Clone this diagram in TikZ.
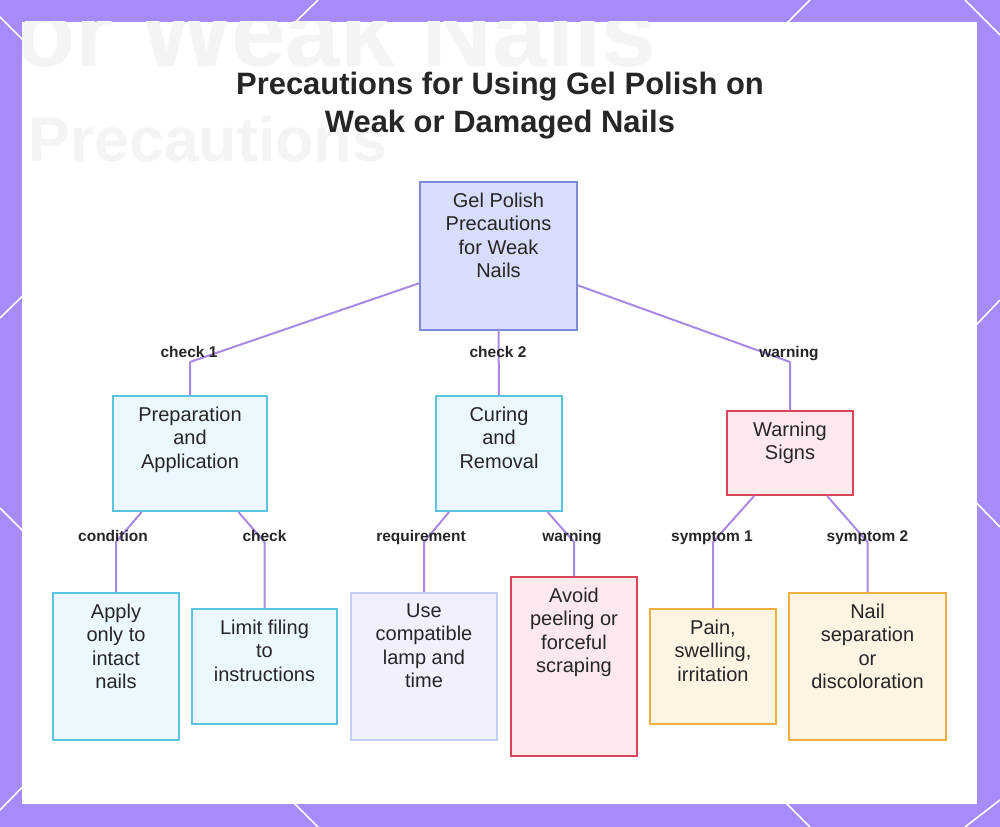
\documentclass[tikz,border=0pt]{standalone}
\usepackage{fontspec}
\setmainfont{Liberation Sans}
\usetikzlibrary{calc,fit}
\definecolor{bgpurple}{HTML}{A78BFA}
\definecolor{conncol}{HTML}{A68AE4}
\definecolor{txtcol}{HTML}{262626}
\definecolor{ghostcol}{HTML}{F4F4F4}
\definecolor{rootfill}{HTML}{D9DDFC}
\definecolor{rootdraw}{HTML}{7D8AD8}
\definecolor{cyanfill}{HTML}{EBF8FE}
\definecolor{cyandraw}{HTML}{5BC3E0}
\definecolor{lavfill}{HTML}{EFF1FE}
\definecolor{lavdraw}{HTML}{C5CCF6}
\definecolor{redfill}{HTML}{FDE8EC}
\definecolor{reddraw}{HTML}{D6455A}
\definecolor{orfill}{HTML}{FEF4E4}
\definecolor{ordraw}{HTML}{EFB03E}
\tikzset{
  boxbase/.style={rectangle, inner sep=0pt, line width=1.5pt},
  rootbox/.style={boxbase, fill=rootfill, draw=rootdraw},
  cyanbox/.style={boxbase, fill=cyanfill, draw=cyandraw},
  lavbox/.style={boxbase, fill=lavfill, draw=lavdraw},
  redbox/.style={boxbase, fill=redfill, draw=reddraw},
  orbox/.style={boxbase, fill=orfill, draw=ordraw},
  ntext/.style={anchor=north, inner sep=0pt, align=center, text=txtcol,
    font=\fontsize{15}{17.6}\selectfont},
  elabel/.style={anchor=base, inner sep=0pt, text=txtcol, font=\bfseries\fontsize{11.6}{13}\selectfont},
  conn/.style={draw=conncol, line width=1.5pt, line join=round},
  diag/.style={draw=white, line width=1.2pt},
  ghost/.style={inner sep=0pt, text=ghostcol, anchor=base west, font=\bfseries}
}
\begin{document}
\begin{tikzpicture}[x=0.75pt,y=-0.75pt]
\useasboundingbox (0,0) rectangle (1000,827);
\fill[bgpurple] (0,0) rectangle (1000,827);
% diagonal accent lines
\draw[diag] (0,17) -- (42,59);
\draw[diag] (318,0) -- (275,42);
\draw[diag] (810,0) -- (768,42);
\draw[diag] (965,0) -- (1000,35);
\draw[diag] (0,318) -- (42,277);
\draw[diag] (0,508) -- (42,550);
\draw[diag] (1000,300) -- (957,345);
\draw[diag] (1000,527) -- (957,483);
\draw[diag] (0,810) -- (42,767);
\draw[diag] (318,827) -- (275,784);
\draw[diag] (810,827) -- (767,784);
\draw[diag] (965,827) -- (1000,800);
% panel
\fill[white] (22,22) rectangle (977,804);
\begin{scope}
\clip (22,22) rectangle (977,804);
\node[ghost, font=\bfseries\fontsize{73.5}{80}\selectfont] (ghostA) at (15,67) {or Weak Nails};
\node[ghost, font=\bfseries\fontsize{47}{52}\selectfont] (ghostB) at (28,162) {Precautions};
\end{scope}
% title
\node[anchor=north, inner sep=0pt, align=center, text=txtcol,
  font=\bfseries\fontsize{23.2}{28.5}\selectfont] (title) at (500,72)
  {Precautions for Using Gel Polish on\\Weak or Damaged Nails};
% boxes
\node[rootbox, fit={(420,182) (577,330)}] (root) {};
\node[cyanbox, fit={(113,396) (267,511)}] (prep) {};
\node[cyanbox, fit={(436,396) (562,511)}] (cur) {};
\node[redbox,  fit={(727,411) (853,495)}] (warn) {};
\node[cyanbox, fit={(53,593) (179,740)}] (apply) {};
\node[cyanbox, fit={(192,609) (337,724)}] (limit) {};
\node[lavbox,  fit={(351,593) (497,740)}] (use) {};
\node[redbox,  fit={(511,577) (637,756)}] (avoid) {};
\node[orbox,   fit={(650,609) (776,724)}] (pain) {};
\node[orbox,   fit={(789,593) (946,740)}] (nail) {};
% box texts
\node[ntext] (rootT)  at ($(root.north)+(0,11.5)$)  {Gel Polish\\Precautions\\for Weak\\Nails};
\node[ntext] (prepT)  at ($(prep.north)+(0,11.5)$)  {Preparation\\and\\Application};
\node[ntext] (curT)   at ($(cur.north)+(0,11.5)$)   {Curing\\and\\Removal};
\node[ntext] (warnT)  at ($(warn.north)+(0,11.5)$)  {Warning\\Signs};
\node[ntext] (applyT) at ($(apply.north)+(0,11.5)$) {Apply\\only to\\intact\\nails};
\node[ntext] (limitT) at ($(limit.north)+(0,11.5)$) {Limit filing\\to\\instructions};
\node[ntext] (useT)   at ($(use.north)+(0,11.5)$)   {Use\\compatible\\lamp and\\time};
\node[ntext] (avoidT) at ($(avoid.north)+(0,11.5)$) {Avoid\\peeling or\\forceful\\scraping};
\node[ntext] (painT)  at ($(pain.north)+(0,11.5)$)  {Pain,\\swelling,\\irritation};
\node[ntext] (nailT)  at ($(nail.north)+(0,11.5)$)  {Nail\\separation\\or\\discoloration};
% bend points
\coordinate (b1) at ($(prep.north)+(0,-33)$);
\coordinate (b2) at ($(cur.north)+(0,-33)$);
\coordinate (b3) at ($(warn.north)+(0,-48)$);
\coordinate (b4) at ($(apply.north)+(0,-50)$);
\coordinate (b5) at ($(limit.north)+(0,-66)$);
\coordinate (b6) at ($(use.north)+(0,-50)$);
\coordinate (b7) at ($(avoid.north)+(0,-34)$);
\coordinate (b8) at ($(pain.north)+(0,-66)$);
\coordinate (b9) at ($(nail.north)+(0,-50)$);
% connectors
\draw[conn] ($(root.north west)!0.682!(root.south west)$) -- (b1) -- (prep.north);
\draw[conn] (root.south) -- (cur.north);
\draw[conn] ($(root.north east)!0.696!(root.south east)$) -- (b3) -- (warn.north);
\draw[conn] ($(prep.south west)!0.19!(prep.south east)$) -- (b4) -- (apply.north);
\draw[conn] ($(prep.south west)!0.81!(prep.south east)$) -- (b5) -- (limit.north);
\draw[conn] ($(cur.south west)!0.11!(cur.south east)$) -- (b6) -- (use.north);
\draw[conn] ($(cur.south west)!0.88!(cur.south east)$) -- (b7) -- (avoid.north);
\draw[conn] ($(warn.south west)!0.22!(warn.south east)$) -- (b8) -- (pain.north);
\draw[conn] ($(warn.south west)!0.79!(warn.south east)$) -- (b9) -- (nail.north);
% edge labels
\node[elabel] (l1) at ($(b1)+(-1,-4)$) {check 1};
\node[elabel] (l2) at ($(b2)+(-1,-4)$) {check 2};
\node[elabel] (l3) at ($(b3)+(-1,-4)$) {warning};
\node[elabel] (l4) at ($(b4)+(-3,-1)$) {condition};
\node[elabel] (l5) at ($(b5)+(0,-1)$) {check};
\node[elabel] (l6) at ($(b6)+(-3,-1)$) {requirement};
\node[elabel] (l7) at ($(b7)+(-2,-1)$) {warning};
\node[elabel] (l8) at ($(b8)+(-1,-1)$) {symptom 1};
\node[elabel] (l9) at ($(b9)+(0,-1)$) {symptom 2};
\end{tikzpicture}
\end{document}
